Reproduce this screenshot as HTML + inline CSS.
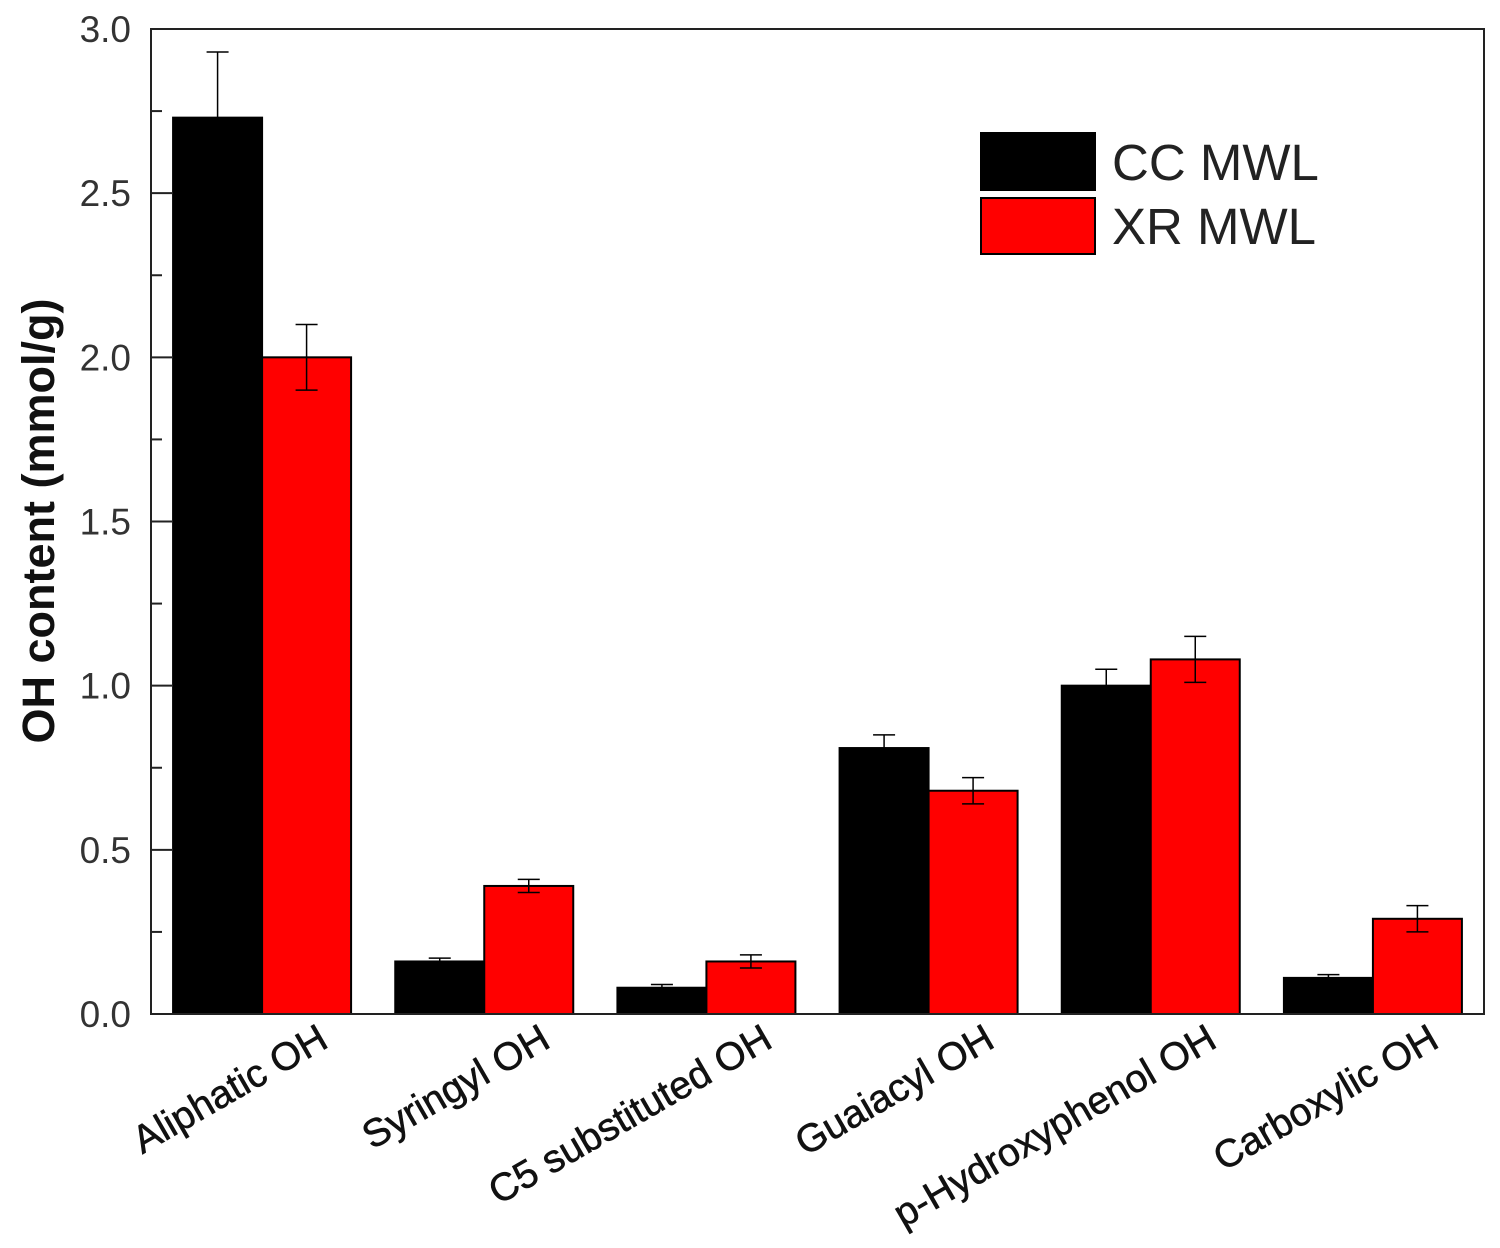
<!DOCTYPE html>
<html><head><meta charset="utf-8"><style>
body{margin:0;background:#fff}
svg{display:block;font-family:"Liberation Sans",Arial,sans-serif}
</style></head><body>
<svg id="chart" width="1500" height="1248" viewBox="0 0 1500 1248"></svg>
<script>
const categories=["Aliphatic OH","Syringyl OH","C5 substituted OH","Guaiacyl OH","p-Hydroxyphenol OH","Carboxylic OH"];
const ccValues=[2.73,0.16,0.08,0.81,1.00,0.11];
const ccErrors=[0.20,0.01,0.01,0.04,0.05,0.01];
const xrValues=[2.00,0.39,0.16,0.68,1.08,0.29];
const xrErrors=[0.10,0.02,0.02,0.04,0.07,0.04];
const yTicks=["0.0","0.5","1.0","1.5","2.0","2.5","3.0"];

const NS="http://www.w3.org/2000/svg";
const svg=document.getElementById('chart');
const L=151,R=1484,T=29,B=1014,YMAX=3;
const y=v=>B-(v/YMAX)*(B-T);
const gw=(R-L)/categories.length;
const xc=i=>L+gw*(i+0.5);
const BW=89;
function mk(tag,attrs,parent){const e=document.createElementNS(NS,tag);for(const k in attrs)e.setAttribute(k,attrs[k]);(parent||svg).appendChild(e);return e;}

function series(vals,errs,color,side,name){
  vals.forEach((v,i)=>{
    const x0=side<0?xc(i)-BW:xc(i);
    const r=mk('rect',{x:x0,y:y(v),width:BW,height:B-y(v),fill:color,stroke:'#000','stroke-width':2});
    
    
    const cx=x0+BW/2,hw=11;
    const g=mk('g',{stroke:'#000','stroke-width':1.5});
    
    
    mk('line',{x1:cx,x2:cx,y1:y(v+errs[i]),y2:y(v-errs[i])},g);
    mk('line',{x1:cx-hw,x2:cx+hw,y1:y(v+errs[i]),y2:y(v+errs[i])},g);
    mk('line',{x1:cx-hw,x2:cx+hw,y1:y(v-errs[i]),y2:y(v-errs[i])},g);
  });
}
series(ccValues,ccErrors,'#000',-1,'cc-mwl');
series(xrValues,xrErrors,'#ff0000',1,'xr-mwl');

const fr=mk('rect',{x:L,y:T,width:R-L,height:B-T,fill:'none',stroke:'#222','stroke-width':2});



yTicks.forEach((t,i)=>{
  const v=parseFloat(t);
  mk('line',{x1:L,x2:L+22,y1:y(v),y2:y(v),stroke:'#222','stroke-width':2});
  if(i<yTicks.length-1){const m=v+0.25;mk('line',{x1:L,x2:L+11,y1:y(m),y2:y(m),stroke:'#222','stroke-width':2});}
  const tx=mk('text',{x:L-20,y:y(v)+13,'text-anchor':'end','font-size':37,fill:'#333'});
  tx.textContent=t;
  
  
});
const yt=mk('text',{transform:'translate(54,521) rotate(-90)','text-anchor':'middle','font-size':45,'font-weight':'bold',fill:'#111'});
yt.textContent='OH content (mmol/g)';



categories.forEach((c,i)=>{
  const tx=mk('text',{transform:`translate(${xc(i)+68},1046) rotate(-30)`,'text-anchor':'end','font-size':39,fill:'#111','stroke':'#111','stroke-width':0.6});
  tx.textContent=c;
  
  
});

const lg=mk('g',{});


const e1=mk('g',{},lg);


mk('rect',{x:981,y:133,width:114,height:57,fill:'#000',stroke:'#000','stroke-width':2},e1);
const l1=mk('text',{x:1112,y:180,'font-size':51,fill:'#222'},e1);l1.textContent='CC MWL';
const e2=mk('g',{},lg);


mk('rect',{x:981,y:198,width:114,height:56,fill:'#ff0000',stroke:'#000','stroke-width':2},e2);
const l2=mk('text',{x:1112,y:244,'font-size':51,fill:'#222'},e2);l2.textContent='XR MWL';
</script>
</body></html>
